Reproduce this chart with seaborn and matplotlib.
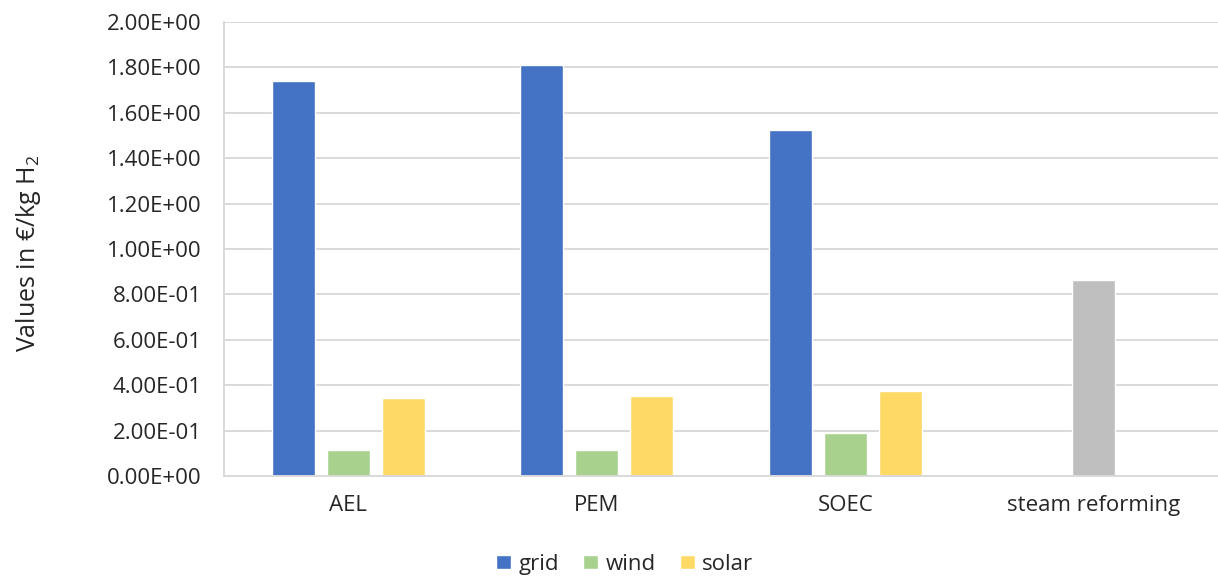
import matplotlib
matplotlib.use("Agg")
import matplotlib.pyplot as plt
import seaborn as sns
import pandas as pd
import numpy as np

# Hydrogen cost by production route and electricity source
categories = ["AEL", "PEM", "SOEC", "steam reforming"]
grid = [1.741, 1.812, 1.524, np.nan]
wind = [0.1145, 0.1145, 0.189, np.nan]
solar = [0.344, 0.352, 0.376, np.nan]
reforming = [np.nan, np.nan, np.nan, 0.862]
series = ["grid", "wind", "solar"]
yticks = [0.0, 0.2, 0.4, 0.6, 0.8, 1.0, 1.2, 1.4, 1.6, 1.8, 2.0]

palette = {"grid": "#4472C4", "wind": "#A9D18E", "solar": "#FFD966"}
reform_color = "#BFBFBF"
text_color = "#262626"

sns.set_theme(style="white")
plt.rcParams["font.family"] = ["Open Sans", "DejaVu Sans"]
plt.rcParams["mathtext.fontset"] = "custom"
plt.rcParams["mathtext.rm"] = "Open Sans"
plt.rcParams["mathtext.it"] = "Open Sans"

df = pd.DataFrame({
    "category": categories * 3,
    "source": ["grid"] * 4 + ["wind"] * 4 + ["solar"] * 4,
    "value": grid + wind + solar,
})
df_ref = pd.DataFrame({"category": categories, "value": reforming})

fig = plt.figure(figsize=(12.18, 5.77), dpi=100)
ax = fig.add_axes([0.184, 0.175, 0.816, 0.787])

sns.barplot(data=df, x="category", y="value", hue="source", order=categories,
            hue_order=series, palette=palette, width=0.663, gap=0.217,
            saturation=1, ax=ax, legend=True)
sns.barplot(data=df_ref, x="category", y="value", order=categories,
            color=reform_color, width=0.173, saturation=1, ax=ax)

ax.set_ylim(0, 2.0)
ax.set_xlim(-0.5, 3.5)
ax.set_yticks(yticks)
ax.set_yticklabels([f"{v:.2E}" for v in yticks], fontsize=16, color=text_color)
ax.tick_params(axis="x", labelsize=16, colors=text_color, length=0, pad=14)
ax.tick_params(axis="y", length=0, pad=16)
ax.yaxis.grid(True, color="#D9D9D9", linewidth=1.4)
ax.set_axisbelow(True)
for s in ["top", "right"]:
    ax.spines[s].set_visible(False)
ax.spines["left"].set_color("#D9D9D9")
ax.spines["left"].set_linewidth(1.4)
ax.spines["bottom"].set_color("#D9D9D9")
ax.spines["bottom"].set_linewidth(1.4)

ax.set_xlabel("")
ax.set_ylabel("Values in €/kg H$_2$", fontsize=18, color=text_color)
ax.yaxis.set_label_coords(-0.182, 0.49)

handles, labels = ax.get_legend_handles_labels()
fig.legend(handles[:3], labels[:3], loc="center", bbox_to_anchor=(0.513, 0.022),
           ncol=3, frameon=False, fontsize=16, handlelength=0.65, handleheight=0.65,
           handletextpad=0.35, columnspacing=1.1, labelcolor=text_color)
ax.get_legend().remove()

fig.savefig("out.png", dpi=100)
